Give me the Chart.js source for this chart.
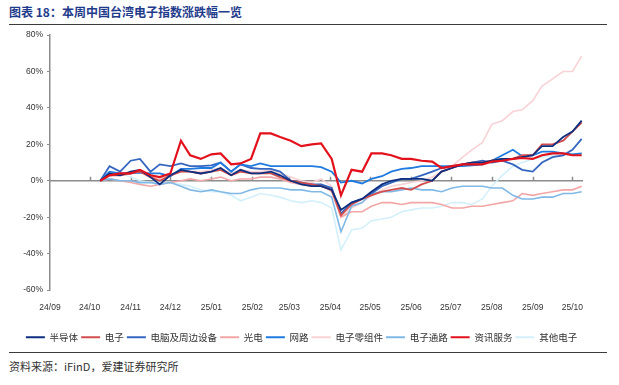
<!DOCTYPE html>
<html>
<head>
<meta charset="utf-8">
<script src="https://cdn.jsdelivr.net/npm/chart.js@4.4.1/dist/chart.umd.min.js"></script>
<style>
  body { margin: 0; background: #fff; width: 619px; height: 385px; position: relative; overflow: hidden; font-family: "Noto Sans CJK SC", "Liberation Sans", sans-serif; }
  #title { position: absolute; left: 9px; top: 3px; font-size: 12px; font-weight: bold; color: #1f3c8c; white-space: nowrap; }
  .rule { position: absolute; left: 9px; width: 598px; height: 0; border-top: 1.5px solid #3a3a3a; }
  #chart-box { position: absolute; left: 0; top: 26px; width: 619px; height: 326px; }
  #source { position: absolute; left: 9px; top: 358px; font-size: 11px; color: #333; white-space: nowrap; }
</style>
</head>
<body>
<div id="title">图表 18：本周中国台湾电子指数涨跌幅一览</div>
<div class="rule" style="top:24px"></div>
<div id="chart-box"><canvas id="my-chart" width="619" height="326"></canvas></div>
<div class="rule" style="top:352px"></div>
<div id="source">资料来源：iFinD，爱建证券研究所</div>
<script>
//Data (% change since the start)
var dates = ['2024-10-09', '2024-10-16', '2024-10-24', '2024-11-01', '2024-11-08', '2024-11-16', '2024-11-23', '2024-12-01', '2024-12-09', '2024-12-16',
  '2024-12-24', '2025-01-01', '2025-01-08', '2025-01-16', '2025-01-23', '2025-01-31', '2025-02-07', '2025-02-15', '2025-02-22', '2025-03-02',
  '2025-03-10', '2025-03-18', '2025-03-25', '2025-04-02', '2025-04-09', '2025-04-17', '2025-04-25', '2025-05-02', '2025-05-10', '2025-05-17',
  '2025-05-25', '2025-06-01', '2025-06-09', '2025-06-17', '2025-06-24', '2025-07-02', '2025-07-10', '2025-07-17', '2025-07-25', '2025-08-01',
  '2025-08-09', '2025-08-17', '2025-08-24', '2025-09-01', '2025-09-08', '2025-09-16', '2025-09-24', '2025-10-01', '2025-10-08'];

var semiconductor = [0, 4, 3, 5, 6, 2, -2, 3, 6, 5, 4, 5, 7, 3, 6, 4, 4, 5, 3, 0, -2, -3, -3, -5, -16, -12, -10, -6, -2, 0, 1, 1, 1, 0, 5, 7, 9, 10, 10, 11, 12, 12, 13, 14, 19, 19, 24, 27, 33];
var electronics = [0, 3, 3, 4, 5, 2, 0, 3, 5, 5, 4, 5, 6, 3, 5, 4, 4, 4, 2, 0, -1, -2, -3, -5, -19, -13, -10, -8, -6, -5, -4, -5, -2, 0, 5, 7, 9, 10, 10, 11, 12, 12, 14, 14, 20, 20, 22, 27, 32];
var computers = [0, 8, 5, 11, 12, 5, 9, 8, 9.5, 8, 8, 8.5, 10, 5, 9, 7, 6.5, 6.5, 5, 0, -1, -2, -2, -4, -18, -12, -10, -7, -3, -1, 1, 1, 3, 5, 7, 8, 9, 10, 11, 10, 11, 9, 6, 5, 10, 13, 14, 17, 23];
var optoelectronics = [0, 1, 0, -1, -2, -3, -2, -1, 0, 1, 0, 1, 2, 0, 1, 1, 2, 2, 1, -1, -2, -3, -2, -6, -20, -17, -17, -14, -12, -12, -13, -12, -12, -12, -13, -15, -15, -14, -14, -13, -12, -11, -7, -8, -7, -6, -5, -5, -3];
var network = [0, 5, 4, 4, 4.5, 4, 4, 2.5, 6.5, 6.5, 7, 7, 10, 5, 9, 8, 9.5, 8, 8, 8, 8, 8, 7.5, 5, -1, 0, -1.5, 1, 2.5, 5, 6.5, 7, 8, 8, 8, 8, 8, 8.5, 9, 11, 14, 17, 13.5, 14, 16, 16, 15, 14.5, 15];
var components = [0, 3, 4, 4, 5, 3, 1, 3, 5, 5, 5, 6, 7, 4, 6, 5, 5, 6, 4, 2, 0, -1, 1, -3, -20, -15, -12, -8, -5, -3, -2, -1, 0, 2, 5, 8, 13, 17, 21, 31, 33, 38, 39, 44, 52, 56, 60, 60, 68.5];
var channels = [0, 1, 0, 0, -1, -1, -2, -1, -3, -5, -6, -5, -6, -7, -7, -5, -4, -4, -4, -5, -5, -6, -6, -9, -28, -14, -12, -7, -6, -6, -5, -4, -5, -5, -6, -4, -3, -3, -3, -4, -4, -8, -10, -10, -9, -9, -7, -7, -6];
var infoServices = [0, 3, 4, 4, 6, 3, 2, 4, 22, 14, 12, 14.5, 15, 9, 9.5, 12, 26, 26, 24, 22, 19, 20, 20.5, 12, -8, 6, 5, 15, 15, 14, 12, 12, 11, 10.5, 7, 8, 9, 9, 9, 10.5, 11, 12, 12.5, 12, 14, 15, 15, 14, 14];
var otherElectronics = [0, 3, 4, 2, 0, -1, -1, -1, -2, -3, -5, -6, -6, -8, -11, -9, -7, -8, -9, -11, -12, -11, -12, -15, -38, -27, -26, -22, -21, -20, -17, -16, -15, -15, -14, -12, -12, -13, -10, -3, 3, 8, 10, 12, 13, 14, 14, 15, 15];

var seriesNames = ['半导体', '电子', '电脑及周边设备', '光电', '网路', '电子零组件', '电子通路', '资讯服务', '其他电子'];
var seriesValues = [semiconductor, electronics, computers, optoelectronics, network, components, channels, infoServices, otherElectronics];

var monthStarts = ['2024-09-01', '2024-10-01', '2024-11-01', '2024-12-01', '2025-01-01', '2025-02-01', '2025-03-01',
  '2025-04-01', '2025-05-01', '2025-06-01', '2025-07-01', '2025-08-01', '2025-09-01', '2025-10-01'];
var monthLabels = ['24/09', '24/10', '24/11', '24/12', '25/01', '25/02', '25/03', '25/04', '25/05', '25/06', '25/07', '25/08', '25/09', '25/10'];
var yTicks = [-60, -40, -20, 0, 20, 40, 60, 80];

//Styles
var seriesColors = ['#0d2f80', '#d24e4e', '#3566c0', '#f3a6a6', '#1f7be0', '#f8d2d5', '#80b9e6', '#e3111b', '#d3f0fb'];
var seriesWidths = [1.8, 1.8, 1.8, 1.6, 1.8, 1.6, 1.6, 2.2, 1.6];
var drawOrder = [1, 2, 4, 6, 3, 7, 5, 0, 8];
var axisColor = '#8c8c8c';

//Turn a date string into days since 2024-09-01
var originDay = Date.UTC(2024, 8, 1);
function toDay(s) {
  var p = s.split('-');
  return (Date.UTC(+p[0], +p[1] - 1, +p[2]) - originDay) / 86400000;
}

var days = dates.map(toDay);
var tickDays = monthStarts.map(toDay);

function makeDatasets() {
  var sets = [];
  for (var i = 0; i < seriesNames.length; i++) {
    var points = [];
    for (var j = 0; j < days.length; j++) {
      points.push({ x: days[j], y: seriesValues[i][j] });
    }
    sets.push({
      label: seriesNames[i],
      data: points,
      borderColor: seriesColors[i],
      backgroundColor: seriesColors[i],
      borderWidth: seriesWidths[i],
      pointRadius: 0,
      tension: 0,
      order: drawOrder[i]
    });
  }
  return sets;
}

//Zero line with small month ticks pointing up
var zeroLine = {
  id: 'zeroLine',
  beforeDatasetsDraw: function (chart) {
    var ctx = chart.ctx;
    var xScale = chart.scales.x;
    var y0 = chart.scales.y.getPixelForValue(0);
    ctx.save();
    ctx.strokeStyle = axisColor;
    ctx.lineWidth = 1.5;
    ctx.beginPath();
    ctx.moveTo(chart.chartArea.left, y0);
    ctx.lineTo(chart.chartArea.right, y0);
    for (var i = 1; i < tickDays.length; i++) {
      var px = Math.round(xScale.getPixelForValue(tickDays[i])) + 0.5;
      ctx.moveTo(px, y0);
      ctx.lineTo(px, y0 - 4);
    }
    ctx.stroke();
    ctx.restore();
  }
};

var tickFont = { family: '"Liberation Sans", Arial, sans-serif', size: 8.5 };

var myChart = new Chart(document.getElementById('my-chart').getContext('2d'), {
  type: 'line',
  data: { datasets: makeDatasets() },
  plugins: [zeroLine],
  options: {
    responsive: false,
    animation: false,
    layout: { padding: { top: 6, right: 36, left: 20, bottom: 0 } },
    scales: {
      x: {
        type: 'linear',
        min: 0,
        max: 403,
        grid: { display: false },
        border: { display: false },
        afterBuildTicks: function (scale) {
          scale.ticks = tickDays.map(function (d) { return { value: d }; });
        },
        afterFit: function (scale) { scale.height = 39.5; },
        ticks: {
          autoSkip: false,
          maxRotation: 0,
          padding: 5,
          color: '#333',
          font: tickFont,
          callback: function (value) {
            var k = tickDays.indexOf(value);
            return k >= 0 ? monthLabels[k] : '';
          }
        }
      },
      y: {
        min: -60,
        max: 80,
        afterBuildTicks: function (scale) {
          scale.ticks = yTicks.map(function (v) { return { value: v }; });
        },
        afterFit: function (scale) { scale.width = 30; },
        grid: { drawOnChartArea: false, drawTicks: true, tickLength: 3, color: axisColor },
        border: { display: true, color: axisColor, width: 1.5 },
        ticks: {
          padding: 4,
          color: '#333',
          font: tickFont,
          callback: function (value) { return value + '%'; }
        }
      }
    },
    plugins: {
      tooltip: { enabled: false },
      legend: {
        position: 'bottom',
        labels: {
          boxWidth: 19,
          boxHeight: 2,
          padding: 3,
          color: '#333',
          font: { family: '"Noto Sans CJK SC", sans-serif', size: 9.5 },
          generateLabels: function (chart) {
            var items = Chart.defaults.plugins.legend.labels.generateLabels(chart);
            items.sort(function (a, b) { return a.datasetIndex - b.datasetIndex; });
            items.forEach(function (it) { it.lineWidth = 0; });
            return items;
          }
        }
      }
    }
  }
});
</script>
</body>
</html>
